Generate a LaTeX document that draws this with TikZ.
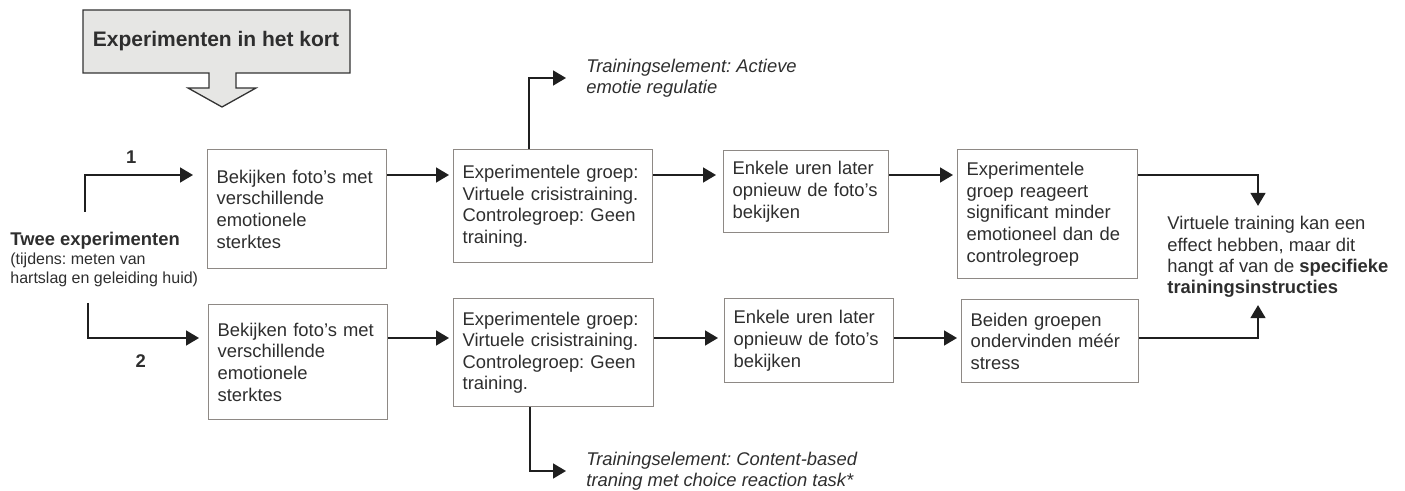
\documentclass[tikz,border=0pt]{standalone}
\usepackage{fontspec}
\setmainfont{Liberation Sans}
\usepackage{tikz}
\usetikzlibrary{arrows.meta}
\usetikzlibrary{positioning}
\frenchspacing

\definecolor{kaderrand}{HTML}{8E8985}
\definecolor{tekstgrijs}{HTML}{2E2E2E}
\definecolor{titelvlak}{HTML}{E6E6E4}

\tikzset{
  stap/.style={draw=kaderrand, line width=0.65pt, anchor=north west, align=left,
    inner xsep=4.5pt, text=tekstgrijs, font=\fontsize{9.2}{10.8}\selectfont},
  pijl/.style={-{Triangle[length=6.5pt,width=7.5pt]}, line width=0.8pt, draw=black!88,
    shorten >=2pt},
  notitie/.style={anchor=west, inner sep=0pt, align=left, text=tekstgrijs,
    font=\fontsize{9.2}{10.5}\selectfont\itshape},
  nummer/.style={text=tekstgrijs, font=\fontsize{9.2}{10.8}\selectfont\bfseries},
}

\begin{document}
\begin{tikzpicture}[x=0.5pt, y=-0.5pt]
            \useasboundingbox (0,0) rectangle (1405,491);

            % titel
            \filldraw[fill=titelvlak, draw=black!80, line width=0.65pt] (83,10) -- (350,10) -- (350,73) -- (236,73) -- (236,88) -- (256,88) -- (222,107) -- (188,88) -- (209,88) -- (209,73) -- (83,73) -- cycle;
            \node[text=tekstgrijs, font=\fontsize{10.5}{12}\selectfont\bfseries] (titel) at (216,41.5) {Experimenten in het kort};

            \node[anchor=west, inner sep=0pt, align=left, text=tekstgrijs, font=\fontsize{8}{9.5}\selectfont] (twee) at (10,259)
                {{\fontsize{9.2}{10.8}\selectfont\bfseries Twee experimenten}\\(tijdens: meten van\\hartslag en geleiding huid)};

            % experiment 1
            \node[stap, text width=80.5pt, minimum height=59.5pt] (b1) at (207,149) {Bekijken foto’s met\\verschillende\\emotionele\\sterktes};
            \node[stap, text width=90.5pt, minimum height=56.5pt] (b3) at (453,149) {Experimentele groep:\\Virtuele crisistraining.\\Controlegroep: Geen\\training.};
            \node[stap, text width=73.5pt, minimum height=41pt] (b4) at (723,150) {Enkele uren later\\opnieuw de foto’s\\bekijken};
            \node[stap, text width=81pt, minimum height=64.5pt] (b5) at (957,149) {Experimentele\\groep reageert\\significant minder\\emotioneel dan de\\controlegroep};

            % experiment 2
            \node[stap, text width=80.5pt, minimum height=57.5pt] (b1b) at (208,304) {Bekijken foto’s met\\verschillende\\emotionele\\sterktes};
            \node[stap, text width=91pt, minimum height=54pt] (b3b) at (453,298) {Experimentele groep:\\Virtuele crisistraining.\\Controlegroep: Geen\\training.};
            \node[stap, text width=75.5pt, minimum height=42pt] (b4b) at (724,298) {Enkele uren later\\opnieuw de foto’s\\bekijken};
            \node[stap, text width=79.5pt, minimum height=41.5pt] (b5b) at (961,299) {Beiden groepen\\ondervinden méér\\stress};

            \node[notitie] (el1) at (586,78) {Trainingselement: Actieve\\emotie regulatie};
            \node[notitie] (el2) at (586,471) {Trainingselement: Content-based\\traning met choice reaction task*};

            \node[anchor=west, inner sep=0pt, align=left, text=tekstgrijs, font=\fontsize{9.2}{10.7}\selectfont] (conclusie) at (1167,257)
                {Virtuele training kan een\\effect hebben, maar dit\\hangt af van de \textbf{specifieke}\\\textbf{trainingsinstructies}};

            \coordinate (rij1) at (0,175);
            \coordinate (rij2) at (0,338);
            \coordinate (tak1) at (85,212);
            \coordinate (tak2) at (88,303);
            \coordinate (samen) at (1258,0);

            \draw[pijl, shorten >=7pt] (tak1) |- (b1.west |- rij1) node[nummer, pos=0.69, above=2pt] (nr1) {1};
            \draw[pijl, shorten >=4.5pt] (tak2) |- (b1b.west |- rij2) node[nummer, pos=0.72, below=4.5pt] (nr2) {2};

            \draw[pijl] (b1.east |- rij1) -- (b3.west |- rij1);
            \draw[pijl, shorten >=3.5pt] (b3.east |- rij1) -- (b4.west |- rij1);
            \draw[pijl] (b4.east |- rij1) -- (b5.west |- rij1);
            \draw[pijl, shorten >=5pt] (b5.east |- rij1) -| (samen |- conclusie.north);

            \draw[pijl] (b1b.east |- rij2) -- (b3b.west |- rij2);
            \draw[pijl, shorten >=3pt] (b3b.east |- rij2) -- (b4b.west |- rij2);
            \draw[pijl] (b4b.east |- rij2) -- (b5b.west |- rij2);
            \draw[pijl, shorten >=3.5pt] (b5b.east |- rij2) -| (samen |- conclusie.south);

            \draw[pijl, shorten >=10pt] ([xshift=38pt]b3.north west) |- (el1.west);
            \draw[pijl, shorten >=10pt] ([xshift=38.5pt]b3b.south west) |- (el2.west);
        \end{tikzpicture}
\end{document}
